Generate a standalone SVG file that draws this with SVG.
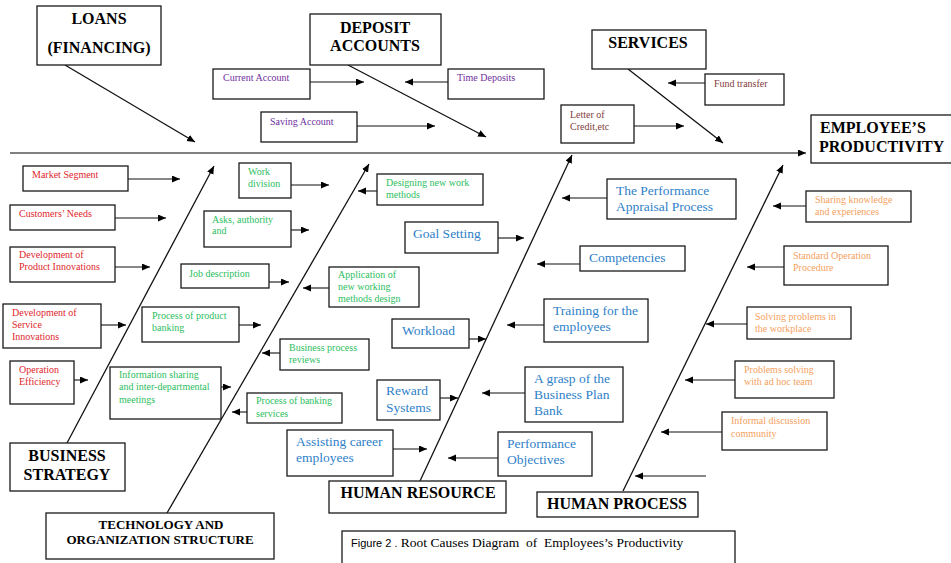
<svg xmlns="http://www.w3.org/2000/svg" width="951" height="563" viewBox="0 0 951 563" font-family="'Liberation Serif', 'Times New Roman', 'DejaVu Serif', serif">
<style>
text{font-family:'Liberation Serif','Times New Roman','DejaVu Serif',serif}
.box{fill:#fff;stroke:#1a1a1a;stroke-width:1.3}
.h{font-weight:bold;font-size:16px;fill:#000;text-anchor:middle}
.hl{text-anchor:start}
.h13{font-size:13px}
.s{font-size:10px}
.red{fill:#E0262B}
.pur{fill:#7030A0}
.brn{fill:#833C3C}
.grn{fill:#2DBE60}
.blu{fill:#2F7FC8;font-size:13.5px}
.org{fill:#F5A160}
.ar{stroke:#111;stroke-width:1.1;fill:none;marker-end:url(#ah)}
.bone{stroke:#111;stroke-width:1.3;fill:none;marker-end:url(#ah)}
.spine{stroke:#808080;stroke-width:2.2;fill:none;marker-end:url(#ah)}
.cap{font-size:13.5px;fill:#000}
.sans{font-family:'Liberation Sans',Arial,sans-serif;font-size:11px}
</style>
<defs>
<marker id="ah" markerUnits="userSpaceOnUse" markerWidth="9" markerHeight="8" refX="8" refY="3.5" orient="auto"><path d="M0,0 L8,3.5 L0,7 z" fill="#000"/></marker>
</defs>
<rect width="951" height="563" fill="#fff"/>

<g id="connectors">
<path class="spine" d="M10,153 L806,153"/>
<path class="bone" d="M65,65 L195,142"/>
<path class="bone" d="M348,65 L486,137"/>
<path class="bone" d="M628,69 L723,143"/>
<path class="bone" d="M67,443 L214,166"/>
<path class="bone" d="M167,513 L369,164"/>
<path class="bone" d="M420,481 L572,155"/>
<path class="bone" d="M623,491 L783,165"/>
<path class="ar" d="M310,82 L364,82"/>
<path class="ar" d="M448,82 L405,82"/>
<path class="ar" d="M357,126 L435,126"/>
<path class="ar" d="M705,83 L668,83"/>
<path class="ar" d="M634,126 L684,126"/>
<path class="ar" d="M128,179 L180,179"/>
<path class="ar" d="M115,218 L166,218"/>
<path class="ar" d="M115,267 L150,267"/>
<path class="ar" d="M101,325 L126,325"/>
<path class="ar" d="M74,380 L88,380"/>
<path class="ar" d="M291,185 L329,185"/>
<path class="ar" d="M291,230 L309,230"/>
<path class="ar" d="M269,282 L289,282"/>
<path class="ar" d="M377,191 L358,191"/>
<path class="ar" d="M329,288 L303,288"/>
<path class="ar" d="M239,325 L261,325"/>
<path class="ar" d="M280,353 L262,353"/>
<path class="ar" d="M221,387 L231,387"/>
<path class="ar" d="M247,412 L232,412"/>
<path class="ar" d="M498,238 L524,238"/>
<path class="ar" d="M607,198 L562,198"/>
<path class="ar" d="M580,264 L537,264"/>
<path class="ar" d="M544,325 L507,325"/>
<path class="ar" d="M469,339 L486,339"/>
<path class="ar" d="M440,398 L458,398"/>
<path class="ar" d="M525,393 L482,393"/>
<path class="ar" d="M393,449 L427,449"/>
<path class="ar" d="M498,458 L448,458"/>
<path class="ar" d="M806,206 L773,206"/>
<path class="ar" d="M784,267 L747,267"/>
<path class="ar" d="M747,324 L706,324"/>
<path class="ar" d="M735,380 L685,380"/>
<path class="ar" d="M722,432 L661,432"/>
<path class="ar" d="M706,476 L635,476"/>
</g>

<g id="n-loans"><rect class="box" x="37" y="6" width="124" height="59"/><text class="h" x="99" y="24">LOANS</text><text class="h" x="99" y="53">(FINANCING)</text></g>
<g id="n-deposit"><rect class="box" x="310" y="14" width="131" height="51"/><text class="h" x="375" y="33">DEPOSIT</text><text class="h" x="375" y="51">ACCOUNTS</text></g>
<g id="n-services"><rect class="box" x="592" y="30" width="114" height="39"/><text class="h" x="648" y="48">SERVICES</text></g>
<g id="n-effect"><rect class="box" x="811" y="115" width="145" height="48"/><text class="h hl" x="820" y="133">EMPLOYEE’S</text><text class="h hl" x="819" y="152">PRODUCTIVITY</text></g>
<g id="n-bs"><rect class="box" x="10" y="443" width="115" height="48"/><text class="h" x="67" y="461">BUSINESS</text><text class="h" x="67" y="480">STRATEGY</text></g>
<g id="n-tech"><rect class="box" x="46" y="513" width="228" height="46"/><text class="h h13" x="161" y="529">TECHNOLOGY AND</text><text class="h h13" x="160" y="544">ORGANIZATION STRUCTURE</text></g>
<g id="n-hr"><rect class="box" x="329" y="481" width="177" height="32"/><text class="h" x="418" y="498">HUMAN RESOURCE</text></g>
<g id="n-hp"><rect class="box" x="537" y="492" width="161" height="25"/><text class="h" x="617" y="509">HUMAN PROCESS</text></g>

<g id="n-current"><rect class="box" x="213" y="69" width="97" height="30"/><text class="s pur" x="223" y="81">Current Account</text></g>
<g id="n-time"><rect class="box" x="448" y="69" width="96" height="30"/><text class="s pur" x="457" y="81">Time Deposits</text></g>
<g id="n-saving"><rect class="box" x="261" y="112" width="96" height="30"/><text class="s pur" x="270" y="125">Saving Account</text></g>
<g id="n-fund"><rect class="box" x="705" y="74" width="79" height="31"/><text class="s brn" x="714" y="87">Fund transfer</text></g>
<g id="n-letter"><rect class="box" x="561" y="105" width="73" height="38"/><text class="s brn" x="570" y="118">Letter of</text><text class="s brn" x="570" y="130">Credit,etc</text></g>

<g id="n-market"><rect class="box" x="23" y="166" width="105" height="25"/><text class="s red" x="32" y="178">Market Segment</text></g>
<g id="n-customers"><rect class="box" x="10" y="205" width="105" height="25"/><text class="s red" x="19" y="217">Customers’ Needs</text></g>
<g id="n-product"><rect class="box" x="10" y="247" width="105" height="35"/><text class="s red" x="19" y="258">Development of</text><text class="s red" x="19" y="270">Product Innovations</text></g>
<g id="n-service"><rect class="box" x="3" y="304" width="98" height="44"/><text class="s red" x="12" y="316">Development of</text><text class="s red" x="12" y="328">Service</text><text class="s red" x="12" y="340">Innovations</text></g>
<g id="n-operation"><rect class="box" x="10" y="361" width="64" height="43"/><text class="s red" x="19" y="373">Operation</text><text class="s red" x="19" y="385">Efficiency</text></g>

<g id="n-work"><rect class="box" x="239" y="163" width="52" height="35"/><text class="s grn" x="248" y="175">Work</text><text class="s grn" x="248" y="187">division</text></g>
<g id="n-asks"><rect class="box" x="204" y="211" width="87" height="36"/><text class="s grn" x="212" y="223">Asks, authority</text><text class="s grn" x="212" y="234">and</text></g>
<g id="n-job"><rect class="box" x="181" y="264" width="88" height="24"/><text class="s grn" x="189" y="277">Job description</text></g>
<g id="n-designing"><rect class="box" x="377" y="174" width="106" height="31"/><text class="s grn" x="386" y="186">Designing new work</text><text class="s grn" x="386" y="198">methods</text></g>
<g id="n-application"><rect class="box" x="329" y="267" width="90" height="40"/><text class="s grn" x="338" y="278">Application of</text><text class="s grn" x="338" y="290">new working</text><text class="s grn" x="338" y="302">methods design</text></g>
<g id="n-prodbank"><rect class="box" x="142" y="307" width="97" height="35"/><text class="s grn" x="152" y="319">Process of product</text><text class="s grn" x="152" y="331">banking</text></g>
<g id="n-bpr"><rect class="box" x="280" y="339" width="89" height="31"/><text class="s grn" x="289" y="351">Business process</text><text class="s grn" x="289" y="363">reviews</text></g>
<g id="n-info"><rect class="box" x="110" y="367" width="111" height="52"/><text class="s grn" x="119" y="378">Information sharing</text><text class="s grn" x="119" y="390">and inter-departmental</text><text class="s grn" x="119" y="403">meetings</text></g>
<g id="n-bankserv"><rect class="box" x="247" y="393" width="95" height="30"/><text class="s grn" x="256" y="404">Process of banking</text><text class="s grn" x="256" y="417">services</text></g>

<g id="n-goal"><rect class="box" x="405" y="222" width="93" height="31"/><text class="blu" x="413" y="238">Goal Setting</text></g>
<g id="n-appraisal"><rect class="box" x="607" y="179" width="129" height="40"/><text class="blu" x="616" y="195">The Performance</text><text class="blu" x="616" y="211">Appraisal Process</text></g>
<g id="n-comp"><rect class="box" x="580" y="246" width="105" height="25"/><text class="blu" x="589" y="262">Competencies</text></g>
<g id="n-training"><rect class="box" x="544" y="299" width="104" height="43"/><text class="blu" x="553" y="315">Training for the</text><text class="blu" x="553" y="331">employees</text></g>
<g id="n-workload"><rect class="box" x="392" y="319" width="77" height="29"/><text class="blu" x="402" y="335">Workload</text></g>
<g id="n-reward"><rect class="box" x="377" y="380" width="63" height="40"/><text class="blu" x="386" y="395">Reward</text><text class="blu" x="386" y="412">Systems</text></g>
<g id="n-grasp"><rect class="box" x="525" y="367" width="98" height="55"/><text class="blu" x="534" y="383">A grasp of the</text><text class="blu" x="534" y="399">Business Plan</text><text class="blu" x="534" y="415">Bank</text></g>
<g id="n-assist"><rect class="box" x="287" y="430" width="106" height="46"/><text class="blu" x="296" y="446">Assisting career</text><text class="blu" x="296" y="462">employees</text></g>
<g id="n-perfobj"><rect class="box" x="498" y="432" width="94" height="44"/><text class="blu" x="507" y="448">Performance</text><text class="blu" x="507" y="464">Objectives</text></g>

<g id="n-sharing"><rect class="box" x="806" y="191" width="105" height="31"/><text class="s org" x="815" y="203">Sharing knowledge</text><text class="s org" x="815" y="215">and experiences</text></g>
<g id="n-sop"><rect class="box" x="784" y="246" width="104" height="39"/><text class="s org" x="793" y="259">Standard Operation</text><text class="s org" x="793" y="271">Procedure</text></g>
<g id="n-solving"><rect class="box" x="747" y="307" width="104" height="32"/><text class="s org" x="755" y="320">Solving problems in</text><text class="s org" x="755" y="332">the workplace</text></g>
<g id="n-adhoc"><rect class="box" x="735" y="361" width="99" height="37"/><text class="s org" x="744" y="373">Problems solving</text><text class="s org" x="744" y="385">with ad hoc team</text></g>
<g id="n-informal"><rect class="box" x="722" y="412" width="105" height="38"/><text class="s org" x="731" y="424">Informal discussion</text><text class="s org" x="731" y="437">community</text></g>

<g id="caption"><rect class="box" x="342" y="531" width="393" height="33"/><text class="cap" x="351" y="547" xml:space="preserve"><tspan class="sans">Figure 2 .</tspan> Root Causes Diagram  of  Employees’s Productivity</text></g>
</svg>
